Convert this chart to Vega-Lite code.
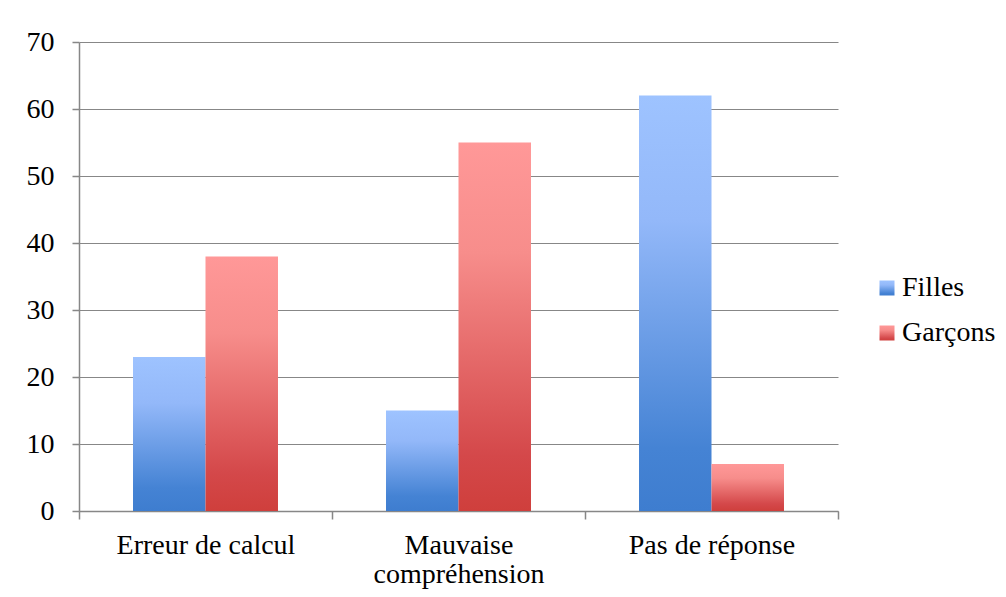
{
  "$schema": "https://vega.github.io/schema/vega-lite/v6.json",
  "width": 759,
  "height": 469,
  "autosize": {"type": "none"},
  "padding": {"left": 79, "top": 42, "right": 168, "bottom": 86},
  "background": "white",
  "data": {
    "values": [
      {"cat": "Erreur de calcul", "serie": "Filles", "value": 23},
      {"cat": "Erreur de calcul", "serie": "Garçons", "value": 38},
      {"cat": "Mauvaise compréhension", "serie": "Filles", "value": 15},
      {"cat": "Mauvaise compréhension", "serie": "Garçons", "value": 55},
      {"cat": "Pas de réponse", "serie": "Filles", "value": 62},
      {"cat": "Pas de réponse", "serie": "Garçons", "value": 7}
    ]
  },
  "encoding": {
    "x": {
      "field": "cat",
      "type": "nominal",
      "sort": null,
      "scale": {"paddingInner": 0, "paddingOuter": 0},
      "axis": {
        "title": null,
        "labelAngle": 0,
        "tickBand": "extent",
        "grid": false,
        "tickSize": 8,
        "labelPadding": 12,
        "labelLineHeight": 29,
        "labelExpr": "datum.label == 'Mauvaise compréhension' ? ['Mauvaise', 'compréhension'] : datum.label"
      }
    },
    "xOffset": {
      "field": "serie",
      "type": "nominal",
      "scale": {"domain": ["Filles", "Garçons"], "paddingInner": 0, "paddingOuter": 0.745}
    },
    "y": {
      "field": "value",
      "type": "quantitative",
      "scale": {"domain": [0, 70], "nice": false},
      "axis": {
        "title": null,
        "values": [0, 10, 20, 30, 40, 50, 60, 70],
        "tickSize": 7,
        "labelPadding": 18,
        "grid": true
      }
    }
  },
  "layer": [
    {
      "transform": [{"filter": "datum.serie === 'Filles'"}],
      "mark": {
        "type": "bar",
        "strokeWidth": 0,
        "fill": {"gradient": "linear", "x1": 0, "y1": 0, "x2": 0, "y2": 1, "stops": [
          {"offset": 0, "color": "#9ec3ff"},
          {"offset": 0.3, "color": "#93b8f9"},
          {"offset": 0.85, "color": "#4583d4"},
          {"offset": 1, "color": "#3e7dcf"}
        ]}
      },
      "encoding": {
        "stroke": {
          "field": "serie",
          "type": "nominal",
          "scale": {"domain": ["Filles"], "range": ["#6a9fe8"]},
          "legend": {
            "title": null,
            "orient": "none",
            "legendX": 794,
            "legendY": 232,
            "symbolType": "square",
            "symbolSize": 225,
            "symbolStrokeWidth": 0,
            "labelFontSize": 28,
            "labelOffset": 1,
            "padding": 0
          }
        }
      }
    },
    {
      "transform": [{"filter": "datum.serie === 'Garçons'"}],
      "mark": {
        "type": "bar",
        "strokeWidth": 0,
        "fill": {"gradient": "linear", "x1": 0, "y1": 0, "x2": 0, "y2": 1, "stops": [
          {"offset": 0, "color": "#ff9898"},
          {"offset": 0.3, "color": "#f78d8b"},
          {"offset": 0.85, "color": "#d4484a"},
          {"offset": 1, "color": "#cf3f3c"}
        ]}
      },
      "encoding": {
        "stroke": {
          "field": "serie",
          "type": "nominal",
          "scale": {"domain": ["Garçons"], "range": ["#e86a6a"]},
          "legend": {
            "title": null,
            "orient": "none",
            "legendX": 794,
            "legendY": 277,
            "symbolType": "square",
            "symbolSize": 225,
            "symbolStrokeWidth": 0,
            "labelFontSize": 28,
            "labelOffset": 1,
            "padding": 0
          }
        }
      }
    }
  ],
  "resolve": {"scale": {"stroke": "independent"}, "legend": {"stroke": "independent"}},
  "config": {
    "font": "Liberation Serif",
    "view": {"stroke": null},
    "axis": {
      "labelFont": "Liberation Serif",
      "labelFontSize": 28,
      "labelColor": "#000000",
      "domainColor": "#878787",
      "tickColor": "#878787",
      "gridColor": "#878787",
      "gridOpacity": 1,
      "domainWidth": 1.5,
      "tickWidth": 1.5,
      "gridWidth": 1.2
    },
    "legend": {
      "labelFont": "Liberation Serif",
      "labelColor": "#000000"
    }
  }
}
